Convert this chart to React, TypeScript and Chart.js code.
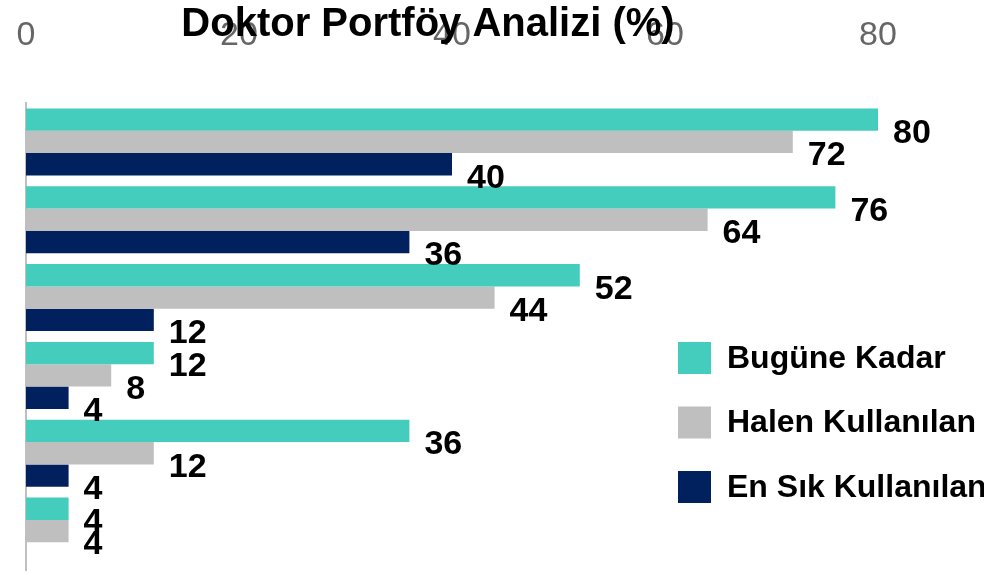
import React, { useEffect, useRef } from "react";
import { Chart, registerables } from "chart.js";

Chart.register(...registerables);

const categories = ["Ürün 1", "Ürün 2", "Ürün 3", "Ürün 4", "Ürün 5", "Ürün 6"];
const seriesNames = ["Bugüne Kadar", "Halen Kullanılan", "En Sık Kullanılan"];
const bugune: (number | null)[] = [80, 76, 52, 12, 36, 4];
const halen: (number | null)[] = [72, 64, 44, 8, 12, 4];
const enSik: (number | null)[] = [40, 36, 12, 4, 4, null];
const xTicks = [0, 20, 40, 60, 80];
const title = "Doktor Portföy Analizi (%)";

const colors = ["#44CDBC", "#BFBFBF", "#00205E"];
const FONT = "'Liberation Sans', Arial, Helvetica, sans-serif";

const titlePlugin = {
  id: "customTitle",
  afterDraw(chart: any) {
    const ctx = chart.ctx;
    ctx.save();
    ctx.font = `bold 40px ${FONT}`;
    ctx.fillStyle = "#000";
    ctx.textAlign = "center";
    ctx.textBaseline = "middle";
    ctx.fillText(title, 428, 25);
    ctx.restore();
  },
};

const labelPlugin = {
  id: "barLabels",
  afterDatasetsDraw(chart: any) {
    const ctx = chart.ctx;
    ctx.save();
    ctx.font = `bold 34px ${FONT}`;
    ctx.fillStyle = "#000";
    ctx.textAlign = "left";
    ctx.textBaseline = "middle";
    chart.data.datasets.forEach((ds: any, i: number) => {
      const meta = chart.getDatasetMeta(i);
      meta.data.forEach((el: any, j: number) => {
        const v = ds.data[j];
        if (v === null || v === undefined) return;
        ctx.fillText(String(v), el.x + 15, el.y + 14);
      });
    });
    ctx.restore();
  },
};

const legendPlugin = {
  id: "customLegend",
  afterDraw(chart: any) {
    const ctx = chart.ctx;
    ctx.save();
    ctx.font = `bold 32px ${FONT}`;
    ctx.textAlign = "left";
    ctx.textBaseline = "middle";
    chart.data.datasets.forEach((ds: any, i: number) => {
      const y = 342 + i * 64.5;
      ctx.fillStyle = ds.backgroundColor;
      ctx.fillRect(678, y, 33, 32);
      ctx.fillStyle = "#000";
      ctx.fillText(ds.label, 727, y + 17);
    });
    ctx.restore();
  },
};

export default function App() {
  const ref = useRef<HTMLCanvasElement>(null);
  useEffect(() => {
    document.body.style.margin = "0";
    const chart = new Chart(ref.current!, {
      type: "bar",
      data: {
        labels: categories,
        datasets: [bugune, halen, enSik].map((d, i) => ({
          label: seriesNames[i],
          data: d,
          backgroundColor: colors[i],
          barPercentage: 1,
          categoryPercentage: 0.86,
        })),
      },
      options: {
        indexAxis: "y",
        animation: false,
        responsive: false,
        maintainAspectRatio: false,
        layout: { padding: { top: 0, right: 106, bottom: 3, left: 0 } },
        plugins: {
          legend: { display: false },
          title: { display: false },
          tooltip: { enabled: false },
        },
        scales: {
          x: {
            position: "top",
            min: 0,
            max: 80,
            afterBuildTicks: (s: any) => {
              s.ticks = xTicks.map((v) => ({ value: v }));
            },
            afterFit: (s: any) => {
              s.height = 103;
              s.paddingLeft = 0;
            },
            ticks: {
              font: { size: 34, family: FONT },
              color: "#666",
              padding: 0,
            },
            grid: { display: false, drawTicks: true, tickLength: 47 },
            border: { display: false },
          },
          y: {
            afterFit: (s: any) => {
              s.width = 26;
            },
            ticks: { display: false },
            grid: { display: false, drawTicks: false },
            border: { display: true, color: "#BFBFBF", width: 2 },
          },
        },
      } as any,
      plugins: [labelPlugin, legendPlugin, titlePlugin],
    });
    return () => chart.destroy();
  }, []);
  return (
    <div style={{ width: 984, height: 573 }}>
      <canvas ref={ref} width={984} height={573} style={{ display: "block" }} />
    </div>
  );
}
